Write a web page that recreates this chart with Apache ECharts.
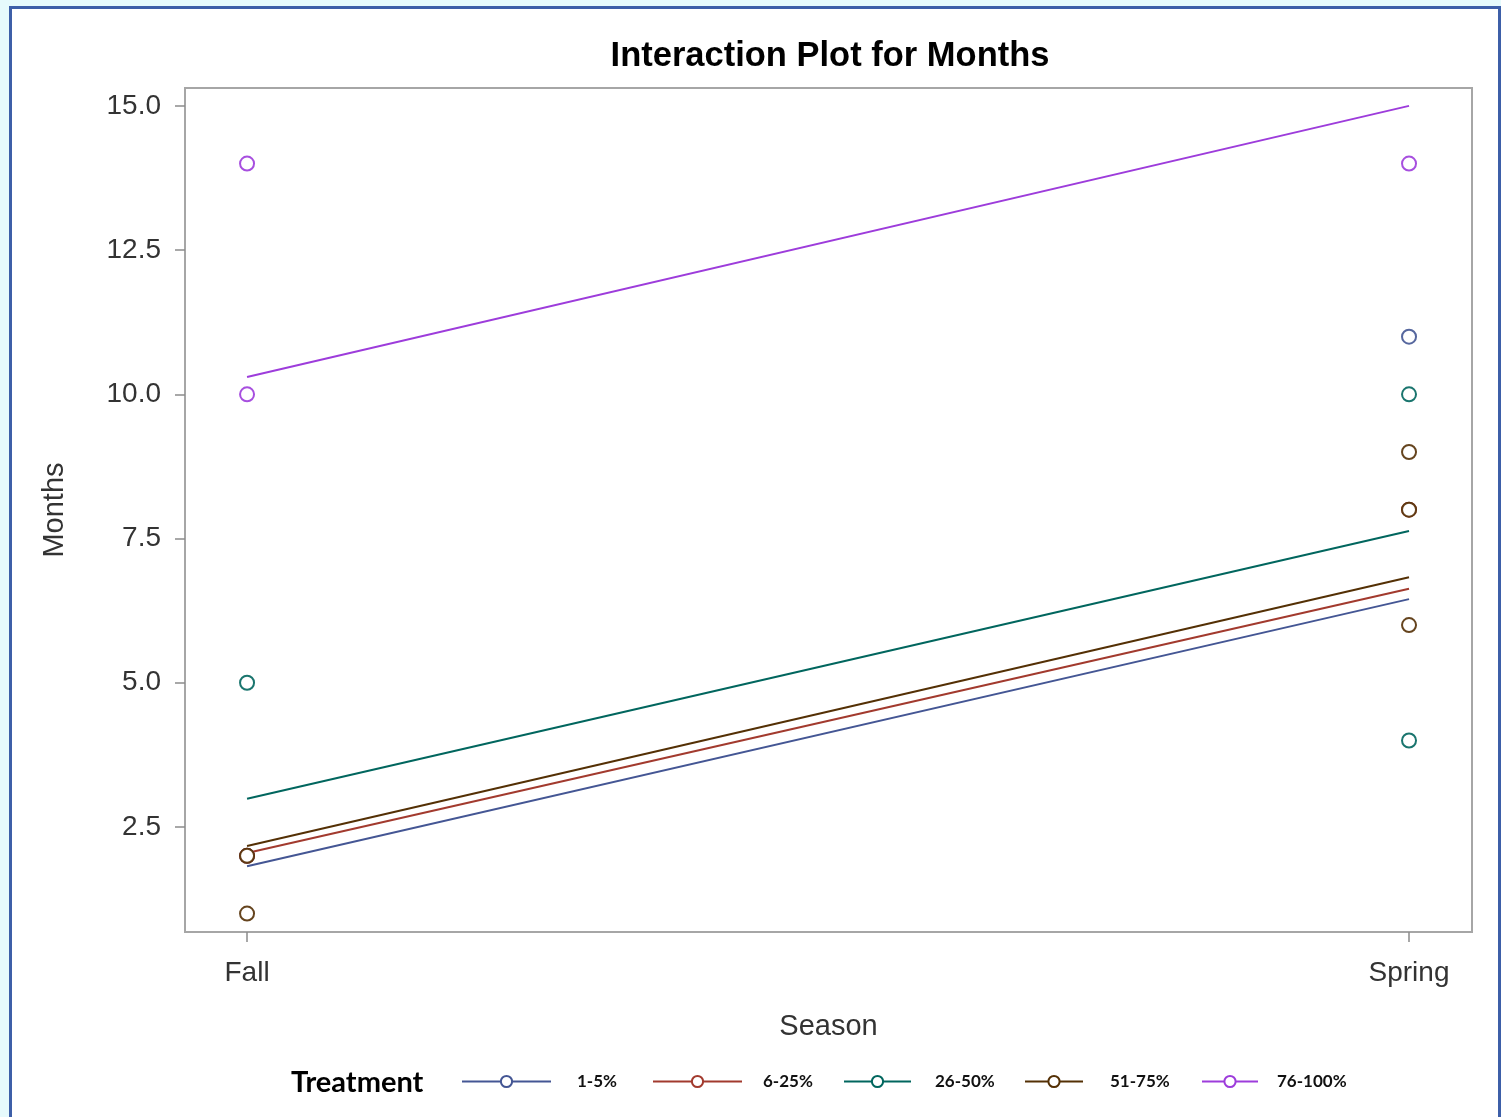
<!DOCTYPE html>
<html>
<head>
<meta charset="utf-8">
<title>Interaction Plot for Months</title>
<script src="https://cdn.jsdelivr.net/npm/echarts@6/dist/echarts.min.js"></script>
<style>
  html, body { margin: 0; padding: 0; width: 1501px; height: 1117px; overflow: hidden; background: #e6fafc; }
  #frame { position: absolute; left: 9px; top: 6px; width: 1486px; height: 1130px; border: 3px solid #3d5fa8; background: #ffffff; }
  #chart { position: absolute; left: 0; top: 0; width: 1501px; height: 1117px; }
</style>
</head>
<body>
<div id="frame"></div>
<div id="chart"></div>
<script>
// Season levels on the x axis
const seasons = ['Fall', 'Spring'];
// Treatment groups (legend order)
const treatments = ['1-5%', '6-25%', '26-50%', '51-75%', '76-100%'];
const treatmentColors = ['#445694', '#a23a2e', '#01665e', '#543005', '#9d3cdb'];
// Fitted Months at each season, one value per treatment
const fitFall = [1.82, 2.05, 2.99, 2.17, 10.30];
const fitSpring = [6.45, 6.63, 7.63, 6.83, 15.0];
// Observed Months per treatment
const obsFall = [[2], [2], [5], [2, 1], [14, 10]];
const obsSpring = [[11], [8], [10, 4], [9, 8, 6], [14]];
// Y axis tick labels
const yTicks = [2.5, 5.0, 7.5, 10.0, 12.5, 15.0];

const FONT = '"Liberation Sans", Arial, sans-serif';

const lineSeries = treatments.map((t, i) => ({
  name: t,
  type: 'line',
  symbol: 'emptyCircle',
  symbolSize: 13,
  showSymbol: false,
  data: [[0, fitFall[i]], [1, fitSpring[i]]],
  lineStyle: { color: treatmentColors[i], width: 2 },
  itemStyle: { color: treatmentColors[i], borderWidth: 2 },
  emphasis: { disabled: true },
  z: 2
}));

const pointSeries = treatments.map((t, i) => ({
  name: t,
  type: 'scatter',
  symbol: 'emptyCircle',
  symbolSize: 14,
  data: obsFall[i].map(v => [0, v]).concat(obsSpring[i].map(v => [1, v])),
  itemStyle: { color: treatmentColors[i], borderColor: treatmentColors[i], borderWidth: 2.5, opacity: 0.9 },
  emphasis: { disabled: true },
  z: 3
}));

// Legend items: line start, line length, gap to label
const legendLayout = [
  [456, 89, 21],
  [647, 89, 16],
  [838, 67, 19],
  [1019, 58, 22],
  [1196, 56, 14]
];

const legends = treatments.map((t, i) => ({
  data: [t],
  left: legendLayout[i][0],
  top: 1068,
  itemWidth: legendLayout[i][1],
  itemHeight: 14,
  selectedMode: false,
  textStyle: {
    fontFamily: 'Lato, sans-serif',
    fontWeight: 'bold',
    fontSize: 17,
    color: '#111',
    padding: [4, 0, 0, legendLayout[i][2]]
  }
}));

const chart = echarts.init(document.getElementById('chart'), null, { renderer: 'canvas' });
chart.setOption({
  backgroundColor: 'transparent',
  animation: false,
  title: [
    {
      text: 'Interaction Plot for Months',
      left: 825,
      top: 34,
      textAlign: 'center',
      textStyle: { fontFamily: FONT, fontWeight: 'bold', fontSize: 34.5, color: '#000' }
    },
    {
      text: 'Treatment',
      left: 286,
      top: 1063,
      textStyle: { fontFamily: 'Lato, sans-serif', fontWeight: 'bold', fontSize: 29, color: '#000' }
    }
  ],
  legend: legends,
  grid: {
    left: 185, right: 29, top: 88, bottom: 185,
    show: true, borderColor: '#a6a6a6', borderWidth: 2, backgroundColor: 'transparent'
  },
  xAxis: {
    type: 'value',
    min: -0.0534,
    max: 1.0542,
    name: 'Season',
    nameLocation: 'middle',
    nameGap: 80,
    nameTextStyle: { fontFamily: FONT, fontSize: 29, color: '#333' },
    axisLine: { show: false, onZero: false },
    splitLine: { show: false },
    axisTick: { show: true, customValues: [0, 1], length: 10, lineStyle: { color: '#8c8c8c', width: 1.5 } },
    axisLabel: {
      customValues: [0, 1],
      margin: 27,
      fontFamily: FONT, fontSize: 28, color: '#333',
      formatter: v => seasons[Math.round(v)]
    }
  },
  yAxis: {
    type: 'value',
    min: 0.68,
    max: 15.31,
    name: 'Months',
    nameLocation: 'middle',
    nameGap: 116,
    nameTextStyle: { fontFamily: FONT, fontSize: 29, color: '#333' },
    axisLine: { show: false, onZero: false },
    splitLine: { show: false },
    axisTick: { show: true, customValues: yTicks, length: 10, lineStyle: { color: '#8c8c8c', width: 1.5 } },
    axisLabel: {
      customValues: yTicks,
      margin: 24,
      fontFamily: FONT, fontSize: 28, color: '#333',
      formatter: v => v.toFixed(1)
    }
  },
  series: lineSeries.concat(pointSeries)
});
</script>
</body>
</html>
